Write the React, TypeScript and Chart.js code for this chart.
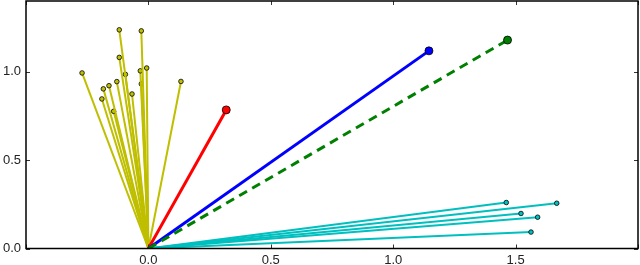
import React, { useEffect, useRef } from "react";
import { Chart, registerables } from "chart.js";

Chart.register(...registerables);

// Endpoints of vectors starting at the origin
const yellowX = [-0.119, -0.029, -0.119, -0.271, -0.094, -0.033, -0.007, 0.133, -0.184, -0.161, -0.129, -0.029, -0.067, -0.19, -0.142];
const yellowY = [1.237, 1.231, 1.081, 0.993, 0.985, 1.005, 1.021, 0.945, 0.903, 0.921, 0.944, 0.931, 0.874, 0.846, 0.776];
const cyanX = [1.462, 1.668, 1.522, 1.59, 1.563];
const cyanY = [0.26, 0.256, 0.198, 0.177, 0.093];
const redPoint = [0.318, 0.784];
const bluePoint = [1.146, 1.118];
const greenPoint = [1.467, 1.179];

const xTickValues = [-0.5, 0, 0.5, 1, 1.5, 2];
const yTickValues = [0, 0.5, 1.0];
const xTickLabels = ["", "0.0", "0.5", "1.0", "1.5", ""];
const yTickLabels = ["0.0", "0.5", "1.0"];

const X_MIN = -0.5, X_MAX = 2.0, Y_MIN = 0, Y_MAX = 1.4;

function vec(x: number, y: number, color: string, width: number, radius: number, dash: number[] = []) {
  return {
    data: [{ x: 0, y: 0 }, { x, y }],
    showLine: true,
    borderColor: color,
    backgroundColor: color,
    borderWidth: width,
    borderDash: dash,
    pointRadius: [0, radius],
    pointBackgroundColor: color,
    pointBorderColor: "#000",
    pointBorderWidth: 0.8,
    pointHoverRadius: 0,
  };
}

const framePlugin = {
  id: "frame",
  afterDraw(chart: any) {
    const { ctx, chartArea, scales } = chart;
    const { left, right, top, bottom } = chartArea;
    ctx.save();
    ctx.strokeStyle = "#333";
    ctx.lineWidth = 1;
    const tl = 4;
    xTickValues.forEach((v) => {
      const px = Math.round(scales.x.getPixelForValue(v)) + 0.5;
      ctx.beginPath();
      ctx.moveTo(px, bottom);
      ctx.lineTo(px, bottom - tl);
      ctx.moveTo(px, top);
      ctx.lineTo(px, top + tl);
      ctx.stroke();
    });
    yTickValues.forEach((v) => {
      const py = Math.round(scales.y.getPixelForValue(v)) + 0.5;
      ctx.beginPath();
      ctx.moveTo(left, py);
      ctx.lineTo(left + tl, py);
      ctx.moveTo(right, py);
      ctx.lineTo(right - tl, py);
      ctx.stroke();
    });
    ctx.strokeStyle = "#000";
    ctx.lineWidth = 1.5;
    ctx.strokeRect(left, top, right - left, bottom - top);
    ctx.restore();
  },
};

export default function App() {
  const ref = useRef<HTMLCanvasElement | null>(null);
  useEffect(() => {
    if (!ref.current) return;
    const datasets: any[] = [];
    datasets.push(vec(greenPoint[0], greenPoint[1], "#008000", 3, 4, [9, 6]));
    datasets.push(vec(bluePoint[0], bluePoint[1], "#0000ff", 3, 4));
    datasets.push(vec(redPoint[0], redPoint[1], "#ff0000", 3, 4));
    cyanX.forEach((x, i) => datasets.push(vec(x, cyanY[i], "#00bfbf", 2, 2.3)));
    yellowX.forEach((x, i) => datasets.push(vec(x, yellowY[i], "#bfbf00", 2, 2.3)));

    const chart = new Chart(ref.current, {
      type: "scatter",
      data: { datasets },
      plugins: [framePlugin],
      options: {
        animation: false,
        responsive: true,
        maintainAspectRatio: false,
        layout: { autoPadding: false, padding: { top: 1, right: 2, left: 0, bottom: 0 } },
        plugins: { legend: { display: false }, tooltip: { enabled: false } },
        events: [],
        scales: {
          x: {
            type: "linear",
            min: X_MIN,
            max: X_MAX,
            grid: { display: false, drawTicks: false },
            border: { display: false },
            afterBuildTicks: (s: any) => {
              s.ticks = xTickValues.map((v) => ({ value: v }));
            },
            afterFit: (s: any) => {
              s.height = 16.5;
              s.paddingLeft = 0;
              s.paddingRight = 0;
            },
            ticks: {
              autoSkip: false,
              maxRotation: 0,
              padding: 4,
              color: "#222",
              font: { family: "Liberation Sans", size: 13 },
              callback: (_v: any, i: number) => xTickLabels[i],
            },
          },
          y: {
            type: "linear",
            min: Y_MIN,
            max: Y_MAX,
            grid: { display: false, drawTicks: false },
            border: { display: false },
            afterBuildTicks: (s: any) => {
              s.ticks = yTickValues.map((v) => ({ value: v }));
            },
            afterFit: (s: any) => {
              s.width = 26;
              s.paddingTop = 0;
              s.paddingBottom = 0;
            },
            ticks: {
              autoSkip: false,
              padding: 5,
              color: "#222",
              font: { family: "Liberation Sans", size: 13 },
              callback: (_v: any, i: number) => yTickLabels[i],
            },
          },
        },
      } as any,
    });
    return () => chart.destroy();
  }, []);
  return (
    <div style={{ position: "absolute", left: 0, top: 0, width: 640, height: 265 }}>
      <canvas ref={ref} />
    </div>
  );
}
